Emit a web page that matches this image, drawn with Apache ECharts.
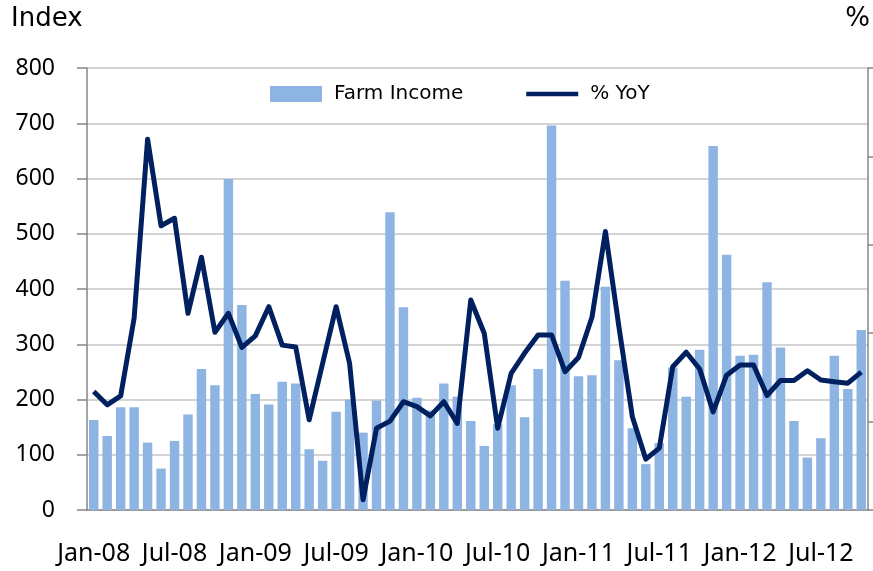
<!DOCTYPE html>
<html>
<head>
<meta charset="utf-8">
<title>Farm Income</title>
<script src="https://cdn.jsdelivr.net/npm/echarts@6/dist/echarts.min.js"></script>
<style>
    html, body { margin: 0; padding: 0; background: #fff; }
    #chart { width: 873px; height: 571px; }
</style>
</head>
<body>
<div id="chart"></div>
<script>
// months Jan-08 .. Oct-12
var months = [
    'Jan-08','Feb-08','Mar-08','Apr-08','May-08','Jun-08','Jul-08','Aug-08','Sep-08','Oct-08','Nov-08','Dec-08',
    'Jan-09','Feb-09','Mar-09','Apr-09','May-09','Jun-09','Jul-09','Aug-09','Sep-09','Oct-09','Nov-09','Dec-09',
    'Jan-10','Feb-10','Mar-10','Apr-10','May-10','Jun-10','Jul-10','Aug-10','Sep-10','Oct-10','Nov-10','Dec-10',
    'Jan-11','Feb-11','Mar-11','Apr-11','May-11','Jun-11','Jul-11','Aug-11','Sep-11','Oct-11','Nov-11','Dec-11',
    'Jan-12','Feb-12','Mar-12','Apr-12','May-12','Jun-12','Jul-12','Aug-12','Sep-12','Oct-12'
];

// farm income index (left axis)
var farmIncome = [
    163, 134, 186, 186, 122, 75, 125, 173, 255, 226, 599, 371,
    210, 191, 232, 229, 110, 89, 178, 200, 140, 198, 539, 367,
    203, 180, 229, 205, 161, 116, 155, 226, 168, 255, 696, 415,
    242, 244, 404, 271, 148, 83, 121, 258, 205, 290, 659, 462,
    279, 281, 412, 294, 161, 95, 130, 279, 219, 326
];

// % YoY (right axis)
var yoy = [
    -13.2, -16.2, -14.2, 3.4, 43.9, 24.3, 26.0, 4.5, 17.2, 0.2, 4.5, -3.2,
    -0.6, 6.0, -2.7, -3.1, -19.6, -6.8, 6.0, -6.8, -37.7, -21.5, -19.9, -15.5,
    -16.6, -18.7, -15.5, -20.4, 7.5, 0.0, -21.5, -9.1, -4.5, -0.4, -0.4, -8.7,
    -5.5, 3.6, 23.0, 1.5, -18.9, -28.5, -26.0, -7.6, -4.3, -8.1, -17.8, -9.5,
    -7.2, -7.2, -14.1, -10.7, -10.7, -8.5, -10.6, -11.0, -11.3, -8.8
];

var font = 'DejaVu Sans';
var axisGrey = '#868686';

var chart = echarts.init(document.getElementById('chart'));
chart.setOption({
    animation: false,
    textStyle: { fontFamily: font, color: '#000' },
    grid: { left: 87, right: 5, top: 68, bottom: 61 },
    graphic: [
        { type: 'text', left: 11, top: 6, style: { text: 'Index', font: '26px "DejaVu Sans"', fill: '#000' } },
        { type: 'text', right: 3, top: 6, style: { text: '%', font: '26px "DejaVu Sans"', fill: '#000' } }
    ],
    legend: {
        left: 270,
        top: 84,
        padding: 0,
        itemWidth: 52,
        itemHeight: 16,
        itemGap: 63,
        textStyle: { fontFamily: font, fontSize: 20, color: '#000', padding: [0, 0, 0, 7] },
        data: [
            { name: 'Farm Income', icon: 'rect' },
            { name: '% YoY', icon: 'path://M0,0 L55,0 L55,5 L0,5 Z' }
        ]
    },
    xAxis: {
        type: 'category',
        data: months,
        boundaryGap: true,
        axisLine: { lineStyle: { color: axisGrey, width: 1.5 } },
        axisTick: { interval: 5, length: 10, lineStyle: { color: axisGrey, width: 1.5 } },
        axisLabel: { interval: 5, fontFamily: 'Noto Sans', fontSize: 25, color: '#000', margin: 31 }
    },
    yAxis: [
        {
            type: 'value',
            min: 0,
            max: 800,
            interval: 100,
            axisLine: { show: true, lineStyle: { color: axisGrey, width: 1.5 } },
            axisTick: { show: true, length: 10, lineStyle: { color: axisGrey, width: 1.5 } },
            axisLabel: { fontFamily: 'Noto Sans', fontSize: 23, color: '#000', margin: 32, padding: [5, 0, 0, 0] },
            splitLine: { lineStyle: { color: '#c6c6c6', width: 1.5 } }
        },
        {
            type: 'value',
            min: -40,
            max: 60,
            interval: 20,
            position: 'right',
            axisLine: { show: true, lineStyle: { color: axisGrey, width: 1.5 } },
            axisTick: { show: true, length: 6, lineStyle: { color: axisGrey, width: 1.5 } },
            axisLabel: { show: false },
            splitLine: { show: false }
        }
    ],
    series: [
        {
            name: 'Farm Income',
            type: 'bar',
            data: farmIncome,
            barCategoryGap: '30%',
            itemStyle: { color: '#8EB4E3' }
        },
        {
            name: '% YoY',
            type: 'line',
            yAxisIndex: 1,
            data: yoy,
            showSymbol: false,
            symbol: 'none',
            lineStyle: { color: '#002060', width: 5, join: 'round' },
            itemStyle: { color: '#002060' }
        }
    ]
});
</script>
</body>
</html>
